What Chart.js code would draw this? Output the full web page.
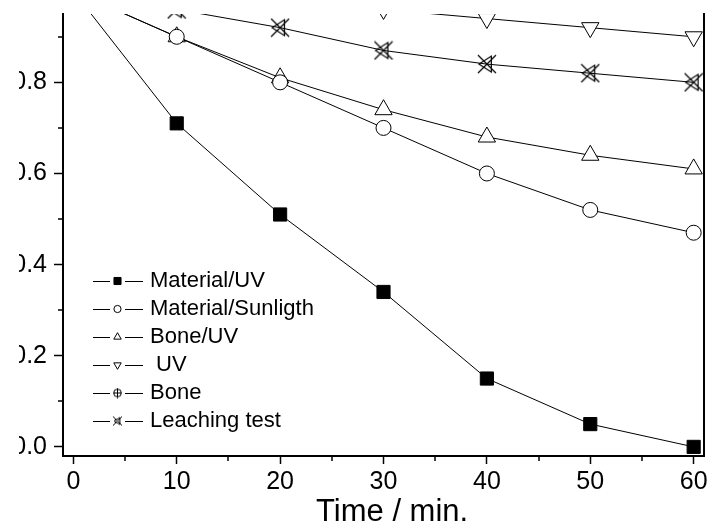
<!DOCTYPE html>
<html><head><meta charset="utf-8">
<script src="https://cdn.jsdelivr.net/npm/chart.js@4"></script>
<style>
html,body{margin:0;padding:0;background:#fff;overflow:hidden;width:710px;height:524px;}
canvas{display:block;clip-path:inset(0 0 0 19px);}
</style></head><body>
<canvas id="c" width="710" height="524"></canvas>
<script>
// ---- data ----
const times = [0, 10, 20, 30, 40, 50, 60];
const materialUV = [1.00, 0.71, 0.51, 0.34, 0.15, 0.05, 0.00];
const materialSunlight = [1.00, 0.90, 0.80, 0.70, 0.60, 0.52, 0.47];
const boneUV = [1.00, 0.90, 0.81, 0.74, 0.68, 0.64, 0.61];
const uvOnly = [1.00, 0.99, 0.98, 0.96, 0.94, 0.92, 0.90];
const boneOnly = [1.00, 0.99, 0.99, 0.985, 0.98, 0.98, 0.975];
const leachingTest = [1.00, 0.96, 0.92, 0.87, 0.84, 0.82, 0.80];
const seriesNames = ['Material/UV', 'Material/Sunligth', 'Bone/UV', ' UV', 'Bone', 'Leaching test'];
const xTickValues = [0, 10, 20, 30, 40, 50, 60];
const xMinorValues = [5, 15, 25, 35, 45, 55];
const yTickValues = [0, 0.2, 0.4, 0.6, 0.8];
const yMinorValues = [0.1, 0.3, 0.5, 0.7, 0.9];
const xTitle = 'Time / min.';

// ---- custom marker images ----
function leachImg(s, lw) {
  const c = document.createElement('canvas'); c.width = s; c.height = s;
  const g = c.getContext('2d'); g.strokeStyle = '#000'; g.lineWidth = lw;
  const m = 1;
  g.beginPath();
  g.moveTo(m, m); g.lineTo(s - m, s - m);
  g.moveTo(s - m, m); g.lineTo(m, s - m);
  g.moveTo(s * 0.72, m + 1); g.lineTo(s * 0.72, s - m - 1); g.lineTo(m + 1, s / 2); g.closePath();
  g.stroke();
  return c;
}
function boneImg(s, lw) {
  const c = document.createElement('canvas'); c.width = s; c.height = s;
  const g = c.getContext('2d'); g.strokeStyle = '#000'; g.lineWidth = lw; g.fillStyle = '#fff';
  const h = s / 2;
  g.beginPath(); g.arc(h, h, h * 0.7, 0, Math.PI * 2); g.fill(); g.stroke();
  g.beginPath(); g.moveTo(h, 0.5); g.lineTo(h, s - 0.5); g.moveTo(h - h * 0.7, h); g.lineTo(h + h * 0.7, h); g.stroke();
  return c;
}
const leachBig = leachImg(20, 1.2), leachSmall = leachImg(11, 1);
const boneBig = boneImg(18, 1.2), boneSmall = boneImg(11, 1);

function mk(label, values, style) {
  return Object.assign({
    label: label,
    data: times.map((t, i) => ({x: t, y: values[i]})),
    borderColor: '#000', borderWidth: 1, tension: 0,
    pointBorderColor: '#000', pointBorderWidth: 1, pointBackgroundColor: '#fff',
    pointHoverRadius: 0
  }, style);
}
const datasets = [
  mk(seriesNames[0], materialUV, {pointStyle: 'rect', pointRadius: 9.3, pointBackgroundColor: '#000',
     legendPoint: {pointStyle: 'rect', radius: 5, fill: '#000'}}),
  mk(seriesNames[1], materialSunlight, {pointStyle: 'circle', pointRadius: 7.5,
     legendPoint: {pointStyle: 'circle', radius: 3.6, fill: '#fff'}}),
  mk(seriesNames[2], boneUV, {pointStyle: 'triangle', pointRadius: 10,
     legendPoint: {pointStyle: 'triangle', radius: 4.3, fill: '#fff'}}),
  mk(seriesNames[3], uvOnly, {pointStyle: 'triangle', pointRadius: 10, pointRotation: 180,
     legendPoint: {pointStyle: 'triangle', radius: 4.3, rotation: 180, fill: '#fff'}}),
  mk(seriesNames[4], boneOnly, {pointStyle: boneBig, pointRadius: 8,
     legendPoint: {pointStyle: boneSmall, radius: 5}}),
  mk(seriesNames[5], leachingTest, {pointStyle: leachBig, pointRadius: 9,
     legendPoint: {pointStyle: leachSmall, radius: 5}})
];

const FONT = "'Liberation Sans', Arial, sans-serif";

const minorTicks = {
  id: 'minorTicks',
  afterDraw(chart) {
    const ctx = chart.ctx, xs = chart.scales.x, ys = chart.scales.y, a = chart.chartArea;
    ctx.save(); ctx.strokeStyle = '#000'; ctx.lineWidth = 1.5;
    ctx.beginPath();
    xMinorValues.forEach(v => { const px = Math.round(xs.getPixelForValue(v)); ctx.moveTo(px, a.bottom); ctx.lineTo(px, a.bottom + 5); });
    yMinorValues.forEach(v => { const py = Math.round(ys.getPixelForValue(v)); if (py >= a.top) { ctx.moveTo(a.left, py); ctx.lineTo(a.left - 5, py); } });
    ctx.stroke(); ctx.restore();
  }
};

const insetLegend = {
  id: 'insetLegend',
  afterDraw(chart) {
    const ctx = chart.ctx;
    const x0 = 93, x1 = 110, mx = 117.5, x2 = 125, x3 = 143, tx = 150;
    const y0 = 281, dy = 28;
    ctx.save();
    chart.data.datasets.forEach((ds, i) => {
      const y = y0 + i * dy;
      ctx.strokeStyle = '#000'; ctx.lineWidth = 1;
      ctx.beginPath(); ctx.moveTo(x0, y + 0.5); ctx.lineTo(x1, y + 0.5); ctx.moveTo(x2, y + 0.5); ctx.lineTo(x3, y + 0.5); ctx.stroke();
      const lp = ds.legendPoint;
      ctx.fillStyle = lp.fill || '#fff'; ctx.strokeStyle = '#000'; ctx.lineWidth = 1;
      Chart.helpers.drawPoint(ctx, {pointStyle: lp.pointStyle, radius: lp.radius, rotation: lp.rotation || 0, borderWidth: 1}, mx, y);
      ctx.fillStyle = '#000'; ctx.font = '22px ' + FONT; ctx.textBaseline = 'middle'; ctx.textAlign = 'left';
      ctx.fillText(ds.label, tx, y);
    });
    ctx.restore();
  }
};

function noPad(s) { s.paddingLeft = 0; s.paddingRight = 0; s.paddingTop = 0; s.paddingBottom = 0; }

new Chart(document.getElementById('c'), {
  type: 'line',
  data: {datasets: datasets},
  options: {
    responsive: false, animation: false, devicePixelRatio: 1,
    layout: {autoPadding: false, padding: {top: 14, left: 0, right: 0, bottom: 0}},
    plugins: {legend: {display: false}, tooltip: {enabled: false}},
    scales: {
      x: {
        type: 'linear', min: -1, max: 61,
        afterBuildTicks: s => { s.ticks = xTickValues.map(v => ({value: v})); },
        afterFit: s => { s.height = 68; noPad(s); },
        ticks: {color: '#000', font: {family: FONT, size: 25}, padding: 3, maxRotation: 0, autoSkip: false},
        grid: {drawOnChartArea: false, drawTicks: true, tickLength: 8, color: '#000', tickWidth: 1.5},
        border: {color: '#000', width: 2},
        title: {display: true, text: '  ' + xTitle, color: '#000', font: {family: FONT, size: 31, lineHeight: 0.75}, padding: {top: 0, bottom: 0}}
      },
      y: {
        type: 'linear', min: -0.02, max: 0.95, position: 'left',
        afterBuildTicks: s => { s.ticks = yTickValues.map(v => ({value: v})); },
        afterFit: s => { s.width = 63; noPad(s); },
        ticks: {color: '#000', font: {family: FONT, size: 25}, padding: 7, callback: v => v.toFixed(1)},
        grid: {drawOnChartArea: false, drawTicks: true, tickLength: 9, color: '#000', tickWidth: 1.5},
        border: {color: '#000', width: 2}
      },
      y2: {
        type: 'linear', min: -0.02, max: 0.95, position: 'right',
        afterFit: s => { s.width = 6; noPad(s); },
        ticks: {display: false},
        grid: {drawOnChartArea: false, drawTicks: false},
        border: {color: '#000', width: 2}
      }
    }
  },
  plugins: [minorTicks, insetLegend]
});
</script>
</body></html>
